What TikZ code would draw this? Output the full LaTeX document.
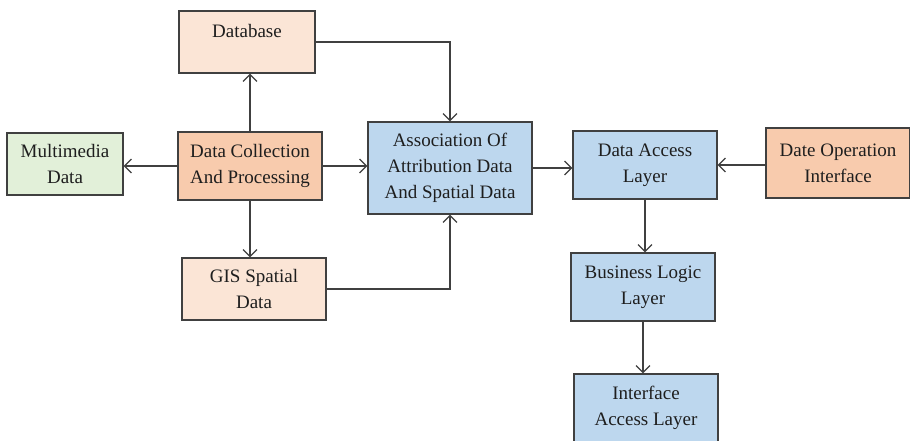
\documentclass[tikz,border=0pt]{standalone}
\usepackage{fontspec}
\setmainfont{Liberation Serif}
\usetikzlibrary{arrows.meta}

\definecolor{peachlight}{HTML}{FBE5D6}
\definecolor{peach}{HTML}{F8CBAD}
\definecolor{greenlight}{HTML}{E2F0D9}
\definecolor{bluelight}{HTML}{BDD7EE}
\definecolor{edgegray}{HTML}{404040}
\definecolor{inkgray}{HTML}{1E1E1E}

\tikzset{
  box/.style={draw=edgegray, line width=1.2pt, inner sep=0pt, align=center,
              text=inkgray, font=\rmfamily\fontsize{19}{26}\selectfont},
  link/.style={draw=edgegray, line width=1.3pt,
               -{Straight Barb[length=7pt,width=14pt,line width=1.2pt]}},
}

\begin{document}
\begin{tikzpicture}[x=1pt,y=-1pt]
  \useasboundingbox (0,0) rectangle (910,441);
  \clip (0,0) rectangle (910,441);
  \fill[white] (0,0) rectangle (910,441);

  % source and storage blocks
  \node[box, fill=peachlight, minimum width=136pt, minimum height=62pt,
        text height=13pt, text depth=22pt] (db) at (247,42) {Database};
  \node[box, fill=greenlight, minimum width=116pt, minimum height=62pt] (mm) at (65,164) {Multimedia\\Data};
  \node[box, fill=peach, minimum width=144pt, minimum height=68pt] (dc) at (250,166) {Data Collection\\And Processing};
  \node[box, fill=peachlight, minimum width=144pt, minimum height=62pt] (gis) at (254,289) {GIS Spatial\\Data};

  % layered access blocks
  \node[box, fill=bluelight, minimum width=164pt, minimum height=92pt] (as) at (450,168) {Association Of\\Attribution Data\\And Spatial Data};
  \node[box, fill=bluelight, minimum width=144pt, minimum height=68pt] (da) at (645,165) {Data Access\\Layer};
  \node[box, fill=peach, minimum width=144pt, minimum height=70pt] (dop) at (838,163) {Date Operation\\Interface};
  \node[box, fill=bluelight, minimum width=144pt, minimum height=68pt] (bl) at (643,287) {Business Logic\\Layer};
  \node[box, fill=bluelight, minimum width=144pt, minimum height=68pt] (ia) at (646,408) {Interface\\Access Layer};

  % connectors
  \draw[link] (dc.west) -- (dc.west -| mm.east);
  \draw[link] (dc.north) -- (dc.north |- db.south);
  \draw[link] (dc.east) -- (dc.east -| as.west);
  \draw[link] (dc.south) -- (dc.south |- gis.north);
  \draw[link] (db.east) -| (as.north);
  \draw[link] (gis.east) -| (as.south);
  \draw[link] (as.east) -- (as.east -| da.west);
  \draw[link] (dop.west |- da.east) -- (da.east);
  \draw[link] (da.south) -- (da.south |- bl.north);
  \draw[link] (bl.south) -- (bl.south |- ia.north);
\end{tikzpicture}
\end{document}
